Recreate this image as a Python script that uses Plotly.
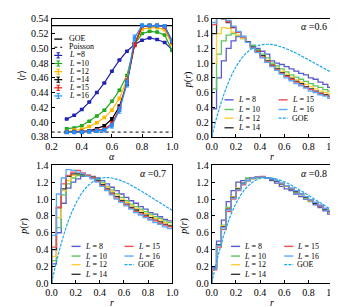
import plotly.graph_objects as go
import numpy as np

# ---------------- data ----------------
alpha = [0.30, 0.35, 0.40, 0.45, 0.50, 0.55, 0.60, 0.65, 0.70, 0.75, 0.80, 0.85, 0.90, 0.95, 1.00]
sizes = [8, 10, 12, 14, 15, 16]
r_L8 = [0.404, 0.409, 0.417, 0.427, 0.440, 0.453, 0.469, 0.484, 0.496, 0.505, 0.511, 0.514, 0.512, 0.508, 0.498]
r_L10 = [0.391, 0.392, 0.395, 0.401, 0.408, 0.416, 0.428, 0.443, 0.463, 0.505, 0.520, 0.523, 0.522, 0.518, 0.497]
r_L12 = [0.387, 0.389, 0.390, 0.394, 0.399, 0.406, 0.416, 0.432, 0.458, 0.505, 0.526, 0.528, 0.528, 0.525, 0.505]
r_L14 = [0.386, 0.387, 0.387, 0.388, 0.391, 0.395, 0.404, 0.421, 0.452, 0.505, 0.530, 0.531, 0.531, 0.530, 0.510]
r_L15 = [0.386, 0.386, 0.387, 0.387, 0.389, 0.390, 0.398, 0.418, 0.455, 0.505, 0.530, 0.531, 0.531, 0.529, 0.508]
r_L16 = [0.386, 0.386, 0.386, 0.387, 0.388, 0.389, 0.395, 0.416, 0.452, 0.514, 0.531, 0.531, 0.531, 0.530, 0.510]
e_L8 = [0.0008, 0.0008, 0.0008, 0.0008, 0.0008, 0.0008, 0.0009, 0.0009, 0.0009, 0.0009, 0.0008, 0.0008, 0.0008, 0.0008, 0.0008]
e_L10 = [0.0009, 0.0009, 0.0009, 0.0010, 0.0010, 0.0011, 0.0012, 0.0013, 0.0014, 0.0012, 0.0010, 0.0009, 0.0009, 0.0009, 0.0009]
e_L12 = [0.0010, 0.0010, 0.0010, 0.0011, 0.0012, 0.0013, 0.0015, 0.0018, 0.0020, 0.0016, 0.0012, 0.0010, 0.0010, 0.0010, 0.0010]
e_L14 = [0.0010, 0.0010, 0.0011, 0.0012, 0.0013, 0.0015, 0.0018, 0.0022, 0.0025, 0.0020, 0.0013, 0.0011, 0.0010, 0.0010, 0.0010]
e_L15 = [0.0015, 0.0015, 0.0015, 0.0016, 0.0018, 0.0020, 0.0025, 0.0030, 0.0035, 0.0030, 0.0018, 0.0015, 0.0015, 0.0015, 0.0015]
e_L16 = [0.0020, 0.0020, 0.0020, 0.0021, 0.0023, 0.0026, 0.0032, 0.0040, 0.0045, 0.0040, 0.0022, 0.0020, 0.0020, 0.0020, 0.0020]
r_GOE = 0.5307
r_Poisson = 0.3863

# histogram bins (edges) of r
r_edges = [0.00, 0.04, 0.08, 0.12, 0.16, 0.20, 0.24, 0.28, 0.32, 0.36, 0.40, 0.44, 0.48,
           0.52, 0.56, 0.60, 0.64, 0.68, 0.72, 0.76, 0.80, 0.84, 0.88, 0.92, 0.96, 1.00]

# alpha = 0.6
h06_L8 = [0.38, 0.80, 1.03, 1.20, 1.30, 1.36, 1.34, 1.28, 1.24, 1.20, 1.16, 1.12, 1.03, 1.00, 0.98, 0.95, 0.92, 0.89, 0.86, 0.84, 0.80, 0.78, 0.74, 0.71, 0.67]
h06_L10 = [0.65, 1.12, 1.30, 1.38, 1.40, 1.37, 1.33, 1.28, 1.24, 1.18, 1.12, 1.07, 1.00, 0.96, 0.92, 0.88, 0.84, 0.81, 0.78, 0.75, 0.72, 0.69, 0.67, 0.64, 0.62]
h06_L12 = [1.00, 1.40, 1.48, 1.47, 1.42, 1.38, 1.33, 1.28, 1.22, 1.16, 1.10, 1.04, 0.98, 0.93, 0.89, 0.85, 0.81, 0.77, 0.74, 0.71, 0.68, 0.65, 0.62, 0.60, 0.58]
h06_L14 = [1.40, 1.62, 1.60, 1.55, 1.48, 1.42, 1.36, 1.29, 1.22, 1.16, 1.10, 1.03, 0.97, 0.92, 0.87, 0.83, 0.79, 0.75, 0.72, 0.68, 0.65, 0.62, 0.59, 0.57, 0.55]
h06_L15 = [1.52, 1.65, 1.62, 1.56, 1.49, 1.42, 1.35, 1.28, 1.21, 1.15, 1.08, 1.02, 0.96, 0.91, 0.86, 0.82, 0.78, 0.74, 0.70, 0.67, 0.64, 0.61, 0.58, 0.56, 0.54]
h06_L16 = [1.55, 1.70, 1.65, 1.58, 1.50, 1.43, 1.36, 1.28, 1.20, 1.14, 1.07, 1.01, 0.95, 0.90, 0.85, 0.80, 0.76, 0.72, 0.69, 0.66, 0.62, 0.60, 0.57, 0.55, 0.52]
# alpha = 0.7
h07_L8 = [0.23, 0.60, 0.95, 1.13, 1.20, 1.24, 1.27, 1.28, 1.27, 1.25, 1.22, 1.18, 1.14, 1.10, 1.06, 1.02, 0.98, 0.95, 0.91, 0.88, 0.84, 0.82, 0.79, 0.76, 0.74]
h07_L10 = [0.27, 0.66, 1.05, 1.18, 1.25, 1.28, 1.28, 1.27, 1.26, 1.23, 1.20, 1.15, 1.11, 1.06, 1.02, 0.98, 0.94, 0.91, 0.88, 0.85, 0.82, 0.79, 0.77, 0.74, 0.72]
h07_L12 = [0.32, 0.78, 1.10, 1.22, 1.28, 1.30, 1.30, 1.28, 1.26, 1.22, 1.18, 1.14, 1.09, 1.05, 1.00, 0.96, 0.92, 0.89, 0.86, 0.83, 0.80, 0.77, 0.75, 0.72, 0.69]
h07_L14 = [0.40, 0.90, 1.12, 1.27, 1.30, 1.30, 1.29, 1.28, 1.26, 1.22, 1.17, 1.12, 1.07, 1.03, 0.98, 0.94, 0.90, 0.87, 0.84, 0.81, 0.78, 0.75, 0.73, 0.70, 0.68]
h07_L15 = [0.43, 0.90, 1.18, 1.28, 1.32, 1.34, 1.31, 1.28, 1.25, 1.21, 1.16, 1.11, 1.06, 1.01, 0.97, 0.93, 0.89, 0.85, 0.82, 0.79, 0.76, 0.74, 0.71, 0.69, 0.67]
h07_L16 = [0.57, 1.06, 1.25, 1.35, 1.34, 1.32, 1.30, 1.27, 1.24, 1.20, 1.15, 1.10, 1.05, 1.00, 0.96, 0.92, 0.88, 0.84, 0.81, 0.78, 0.75, 0.72, 0.70, 0.67, 0.65]
# alpha = 0.8
h08_L8 = [0.19, 0.50, 0.75, 0.97, 1.10, 1.20, 1.22, 1.24, 1.25, 1.26, 1.26, 1.25, 1.22, 1.19, 1.15, 1.12, 1.10, 1.06, 1.03, 1.00, 0.97, 0.93, 0.90, 0.86, 0.82]
h08_L10 = [0.17, 0.46, 0.69, 0.90, 1.02, 1.12, 1.18, 1.25, 1.24, 1.25, 1.26, 1.25, 1.23, 1.21, 1.18, 1.15, 1.12, 1.08, 1.05, 1.01, 0.98, 0.95, 0.92, 0.88, 0.85]
h08_L12 = [0.17, 0.45, 0.68, 0.89, 1.03, 1.13, 1.19, 1.22, 1.24, 1.26, 1.26, 1.25, 1.24, 1.21, 1.18, 1.15, 1.12, 1.09, 1.05, 1.02, 0.98, 0.95, 0.92, 0.88, 0.85]
h08_L14 = [0.18, 0.46, 0.67, 0.88, 1.02, 1.12, 1.19, 1.22, 1.25, 1.26, 1.26, 1.25, 1.23, 1.21, 1.18, 1.16, 1.12, 1.09, 1.06, 1.02, 0.99, 0.95, 0.92, 0.88, 0.85]
h08_L15 = [0.16, 0.43, 0.64, 0.85, 1.00, 1.10, 1.17, 1.22, 1.25, 1.26, 1.27, 1.25, 1.24, 1.22, 1.19, 1.16, 1.13, 1.10, 1.06, 1.03, 0.99, 0.96, 0.92, 0.89, 0.86]
h08_L16 = [0.18, 0.45, 0.66, 0.87, 1.01, 1.11, 1.18, 1.22, 1.25, 1.26, 1.26, 1.25, 1.24, 1.22, 1.19, 1.16, 1.13, 1.10, 1.06, 1.03, 0.99, 0.96, 0.93, 0.89, 0.86]

# GOE ratio distribution
goe_r = [0.00, 0.02, 0.04, 0.06, 0.08, 0.10, 0.12, 0.14, 0.16, 0.18, 0.20, 0.22, 0.24, 0.26, 0.28, 0.30,
         0.32, 0.34, 0.36, 0.38, 0.40, 0.42, 0.44, 0.46, 0.48, 0.50, 0.55, 0.60, 0.65, 0.70, 0.75,
         0.80, 0.85, 0.90, 0.95, 1.00]
goe_p = [0.000, 0.131, 0.254, 0.368, 0.474, 0.572, 0.662, 0.744, 0.819, 0.886, 0.946, 1.000, 1.047, 1.089, 1.125, 1.156,
         1.181, 1.203, 1.220, 1.234, 1.244, 1.250, 1.254, 1.255, 1.253, 1.250, 1.232, 1.205, 1.171, 1.132, 1.089,
         1.045, 1.000, 0.955, 0.910, 0.866]

alpha_labels = ["0.6", "0.7", "0.8"]

# ---------------- styling ----------------
FONT = "Liberation Serif"
c_line = {8: "#2424b4", 10: "#22aa22", 12: "#ffb800", 14: "#000000", 15: "#f01818", 16: "#2090ff"}
c_hist = {8: "#5a5ad0", 10: "#5cc65c", 12: "#ffcc33", 14: "#333333", 15: "#f05050", 16: "#5aa8ff"}
c_goe = "#1ea6ec"

XD_L = [39 / 338, 164 / 338]
XD_R = [205 / 338, 330.3 / 338]
YD_T = [1 - 127.3 / 307, 1 - 5 / 307]
YD_B = [1 - 279.3 / 307, 1 - 157 / 307]

fig = go.Figure()

# ---- panel 1: <r> vs alpha
fig.add_trace(go.Scatter(x=[0.2, 1.0], y=[r_GOE, r_GOE], mode="lines",
                         line=dict(color="black", width=1.2), xaxis="x", yaxis="y", showlegend=False))
fig.add_trace(go.Scatter(x=[0.2, 1.0], y=[r_Poisson, r_Poisson], mode="lines",
                         line=dict(color="black", width=1.0, dash="dot"), xaxis="x", yaxis="y", showlegend=False))
for L, rv, ev in zip(sizes, [r_L8, r_L10, r_L12, r_L14, r_L15, r_L16],
                     [e_L8, e_L10, e_L12, e_L14, e_L15, e_L16]):
    fig.add_trace(go.Scatter(x=alpha, y=rv, mode="lines+markers",
                             line=dict(color=c_line[L], width=1.2),
                             marker=dict(color=c_line[L], size=3.5, symbol="square"),
                             error_y=dict(type="data", array=ev, visible=True, color=c_line[L],
                                          thickness=1, width=2),
                             xaxis="x", yaxis="y", showlegend=False))

# ---- histogram panels
hists = [
    [h06_L8, h06_L10, h06_L12, h06_L14, h06_L15, h06_L16],
    [h07_L8, h07_L10, h07_L12, h07_L14, h07_L15, h07_L16],
    [h08_L8, h08_L10, h08_L12, h08_L14, h08_L15, h08_L16],
]
axes = [("x2", "y2"), ("x3", "y3"), ("x4", "y4")]
for (xa, ya), hs in zip(axes, hists):
    for L, h in zip(sizes, hs):
        xs = [r_edges[0]] + r_edges
        ys = [0] + h + [h[-1]]
        fig.add_trace(go.Scatter(x=xs, y=ys, mode="lines", line_shape="hv",
                                 line=dict(color=c_hist[L], width=1.3),
                                 xaxis=xa, yaxis=ya, showlegend=False))
    fig.add_trace(go.Scatter(x=goe_r, y=goe_p, mode="lines", line_shape="spline",
                             line=dict(color=c_goe, width=1.2, dash="3px,1.2px"),
                             xaxis=xa, yaxis=ya, showlegend=False))

# ---------------- axes ----------------
ax_common = dict(showline=True, linecolor="black", linewidth=1, mirror=True, ticks="inside",
                 ticklen=3, tickcolor="black", showgrid=False, zeroline=False,
                 tickfont=dict(family=FONT, size=10, color="black"))
fig.update_layout(
    xaxis=dict(domain=XD_L, range=[0.2, 1.0], tickvals=[0.2, 0.4, 0.6, 0.8, 1.0],
               ticktext=["0.2", "0.4", "0.6", "0.8", "1.0"], anchor="y", **ax_common),
    yaxis=dict(domain=YD_T, range=[0.38, 0.54], tickvals=[0.38, 0.40, 0.42, 0.44, 0.46, 0.48, 0.50, 0.52, 0.54],
               ticktext=["0.38", "0.40", "0.42", "0.44", "0.46", "0.48", "0.50", "0.52", "0.54"], anchor="x", **ax_common),
    xaxis2=dict(domain=XD_R, range=[0, 1], tickvals=[0, 0.2, 0.4, 0.6, 0.8, 1.0],
                ticktext=["0.0", "0.2", "0.4", "0.6", "0.8", "1.0"], anchor="y2", **ax_common),
    yaxis2=dict(domain=YD_T, range=[0, 1.6], tickvals=[0, 0.2, 0.4, 0.6, 0.8, 1.0, 1.2, 1.4, 1.6],
                ticktext=["0.0", "0.2", "0.4", "0.6", "0.8", "1.0", "1.2", "1.4", "1.6"], anchor="x2", **ax_common),
    xaxis3=dict(domain=XD_L, range=[0, 1], tickvals=[0, 0.2, 0.4, 0.6, 0.8, 1.0],
                ticktext=["0.0", "0.2", "0.4", "0.6", "0.8", "1.0"], anchor="y3", **ax_common),
    yaxis3=dict(domain=YD_B, range=[0, 1.4], tickvals=[0, 0.2, 0.4, 0.6, 0.8, 1.0, 1.2, 1.4],
                ticktext=["0.0", "0.2", "0.4", "0.6", "0.8", "1.0", "1.2", "1.4"], anchor="x3", **ax_common),
    xaxis4=dict(domain=XD_R, range=[0, 1], tickvals=[0, 0.2, 0.4, 0.6, 0.8, 1.0],
                ticktext=["0.0", "0.2", "0.4", "0.6", "0.8", "1.0"], anchor="y4", **ax_common),
    yaxis4=dict(domain=YD_B, range=[0, 1.4], tickvals=[0, 0.2, 0.4, 0.6, 0.8, 1.0, 1.2, 1.4],
                ticktext=["0.0", "0.2", "0.4", "0.6", "0.8", "1.0", "1.2", "1.4"], anchor="x4", **ax_common),
)

annotations = []
shapes = []


def txt(x, y, text, xref, yref, size=10, xanchor="center", yanchor="middle", angle=0, height=None):
    a = dict(x=x, y=y, text=text, xref=xref, yref=yref, showarrow=False,
             xanchor=xanchor, yanchor=yanchor, textangle=angle, borderpad=0,
             font=dict(family=FONT, size=size, color="black"))
    if height is not None:
        a["height"] = height
    annotations.append(a)


def seg(x0, y0, x1, y1, xref, yref, color, width=1.3, dash="solid"):
    shapes.append(dict(type="line", x0=x0, y0=y0, x1=x1, y1=y1, xref=xref, yref=yref,
                       line=dict(color=color, width=width, dash=dash)))


# axis titles
txt(101.5 / 338, 1 - 148 / 307, "<i>α</i>", "paper", "paper", size=10, height=9)
txt(8 / 338, 1 - 64 / 307, "⟨<i>r</i>⟩", "paper", "paper", size=10, angle=-90)
txt(267.5 / 338, 1 - 148 / 307, "<i>r</i>", "paper", "paper", size=10, height=9)
txt(180 / 338, 1 - 68 / 307, "<i>p</i>(<i>r</i>)", "paper", "paper", size=10, angle=-90)
txt(101.5 / 338, 1 - 299.5 / 307, "<i>r</i>", "paper", "paper", size=10, height=9)
txt(10 / 338, 1 - 220 / 307, "<i>p</i>(<i>r</i>)", "paper", "paper", size=10, angle=-90)
txt(267.5 / 338, 1 - 299.5 / 307, "<i>r</i>", "paper", "paper", size=10, height=9)
txt(176 / 338, 1 - 220 / 307, "<i>p</i>(<i>r</i>)", "paper", "paper", size=10, angle=-90)

# panel 1 legend
xr, yr = "x domain", "y domain"
rows1 = [0.828, 0.759, 0.690, 0.621, 0.552, 0.484, 0.415, 0.346]
seg(0.022, rows1[0], 0.088, rows1[0], xr, yr, "black", 1.3)
txt(0.134, rows1[0], "GOE", xr, yr, size=8, xanchor="left", height=7.6)
seg(0.022, rows1[1], 0.088, rows1[1], xr, yr, "black", 1.0, "dot")
txt(0.134, rows1[1], "Poisson", xr, yr, size=8, xanchor="left", height=7.6)
for i, L in enumerate(sizes):
    yy = rows1[2 + i]
    col = c_line[L]
    seg(0.022, yy, 0.088, yy, xr, yr, col, 1.2)
    seg(0.055, yy - 0.022, 0.055, yy + 0.022, xr, yr, col, 1.2)
    seg(0.040, yy - 0.022, 0.070, yy - 0.022, xr, yr, col, 1.0)
    seg(0.040, yy + 0.022, 0.070, yy + 0.022, xr, yr, col, 1.0)
    txt(0.134, yy, f"<i>L</i> ={L}", xr, yr, size=8, xanchor="left", height=7.6)

# histogram legends
leg_rows = [0.313, 0.231, 0.158, 0.076]
leg_cols = {"2": (0.106, 0.553), "3": (0.165, 0.605), "4": (0.160, 0.600)}
for (xa, ya), lab in zip(axes, alpha_labels):
    n = xa[1:]
    xr, yr = f"x{n} domain", f"y{n} domain"
    c1, c2 = leg_cols[n]
    entries = [(c1, leg_rows[0], 8), (c1, leg_rows[1], 10), (c1, leg_rows[2], 12), (c1, leg_rows[3], 14),
               (c2, leg_rows[0], 15), (c2, leg_rows[1], 16)]
    for cx, cy, L in entries:
        seg(cx, cy, cx + 0.075, cy, xr, yr, c_hist[L], 1.4)
        txt(cx + 0.1, cy, f"<i>L</i> = {L}", xr, yr, size=8, xanchor="left", height=9)
    seg(c2, leg_rows[2], c2 + 0.075, leg_rows[2], xr, yr, c_goe, 1.4, "3px,1.2px")
    txt(c2 + 0.1, leg_rows[2], "GOE", xr, yr, size=8, xanchor="left", height=9)
    txt(0.96, 0.935, f"<i>α</i> =0{lab[1:]}", xr, yr, size=10, xanchor="right")

fig.update_layout(
    width=338, height=307, margin=dict(l=0, r=0, t=0, b=0),
    paper_bgcolor="white", plot_bgcolor="white", showlegend=False,
    annotations=annotations, shapes=shapes,
)

fig.write_html("out.html")
